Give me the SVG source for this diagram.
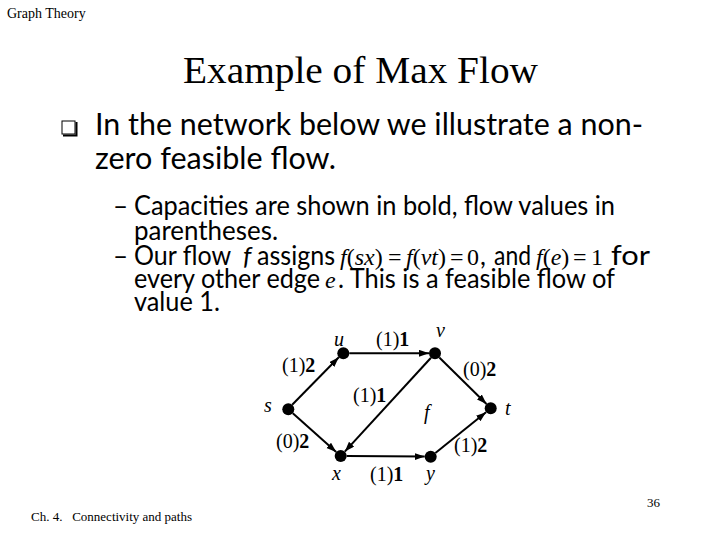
<svg xmlns="http://www.w3.org/2000/svg" width="720" height="540" viewBox="0 0 720 540">
<style>
.ser{font-family:"Liberation Serif","Times New Roman",serif;fill:#000}
.sans{font-family:Lato,"Open Sans","Noto Sans",sans-serif;fill:#000}
.main{font-size:31px}
.sub{font-size:26px}
.tm{font-family:"Liberation Serif","Times New Roman",serif;font-size:24px;fill:#000}
.lbl{font-family:"Liberation Serif","Times New Roman",serif;font-size:20px;fill:#000}
.it{font-style:italic}
.b{font-weight:bold}
.edge{stroke:#000;stroke-width:2;fill:none;marker-end:url(#arr)}
.node{fill:#000}
</style>
<defs>
<marker id="arr" markerUnits="userSpaceOnUse" markerWidth="11" markerHeight="8" refX="10" refY="3.5" orient="auto">
<path d="M0,0 L10,3.5 L0,7 z" fill="#000"/>
</marker>
</defs>
<rect width="720" height="540" fill="#fff"/>
<text class="ser" x="7" y="18" font-size="14">Graph Theory</text>
<text class="ser" x="183" y="83" font-size="38" textLength="355" lengthAdjust="spacingAndGlyphs">Example of Max Flow</text>
<g id="bullet">
<rect x="62" y="121" width="13" height="13" fill="#fff" stroke="#000" stroke-width="1"/>
<path d="M63,135.5 H76.5 V122" stroke="#000" stroke-width="2" fill="none"/>
</g>
<text class="sans main" x="95" y="135" textLength="548" lengthAdjust="spacingAndGlyphs">In the network below we illustrate a non-</text>
<text class="sans main" x="95" y="169" textLength="241" lengthAdjust="spacingAndGlyphs">zero feasible flow.</text>
<text class="sans sub" x="113" y="215">–</text>
<text class="sans sub" x="134" y="215" textLength="481" lengthAdjust="spacingAndGlyphs">Capacities are shown in bold, flow values in</text>
<text class="sans sub" x="134" y="240" textLength="144" lengthAdjust="spacingAndGlyphs">parentheses.</text>
<text class="sans sub" x="113" y="265">–</text>
<text class="sans sub" x="134" y="265" textLength="97" lengthAdjust="spacingAndGlyphs">Our flow</text>
<text class="sans sub it" x="243" y="265">f</text>
<text class="sans sub" x="257" y="265" textLength="78" lengthAdjust="spacingAndGlyphs">assigns</text>
<text class="tm" y="265"><tspan x="340" class="it">f</tspan><tspan>(</tspan><tspan class="it">sx</tspan><tspan>)</tspan><tspan x="388">=</tspan><tspan x="406" class="it">f</tspan><tspan>(</tspan><tspan class="it">vt</tspan><tspan>)</tspan><tspan x="450">=</tspan><tspan x="467">0</tspan></text>
<text class="sans sub" x="480" y="265">,</text>
<text class="sans sub" x="494" y="265" textLength="37" lengthAdjust="spacingAndGlyphs">and</text>
<text class="tm" y="265"><tspan x="536" class="it">f</tspan><tspan>(</tspan><tspan class="it">e</tspan><tspan>)</tspan><tspan x="573">=</tspan><tspan x="591">1</tspan></text>
<text class="sans sub" x="611" y="265" textLength="39" lengthAdjust="spacingAndGlyphs">for</text>
<text class="sans sub" x="134" y="288" textLength="186" lengthAdjust="spacingAndGlyphs">every other edge</text>
<text class="tm it" x="325" y="288">e</text>
<text class="sans sub" x="338" y="288" textLength="277" lengthAdjust="spacingAndGlyphs">. This is a feasible flow of</text>
<text class="sans sub" x="134" y="311" textLength="86" lengthAdjust="spacingAndGlyphs">value 1.</text>
<g id="connectors">
<line class="edge" x1="292.2" y1="404.7" x2="338.8" y2="357.3"/>
<line class="edge" x1="349.3" y1="353.3" x2="429" y2="353.3"/>
<line class="edge" x1="439.3" y1="357.5" x2="486.5" y2="404"/>
<line class="edge" x1="292.8" y1="413.3" x2="336.2" y2="452"/>
<line class="edge" x1="431" y1="357.7" x2="344.8" y2="451.6"/>
<line class="edge" x1="346.7" y1="456.1" x2="424.7" y2="456.6"/>
<line class="edge" x1="435.4" y1="453" x2="486" y2="412.2"/>
</g>
<g id="node-u"><circle class="node" cx="343.3" cy="353.3" r="6"/><text class="lbl it" x="334" y="346">u</text></g>
<g id="node-v"><circle class="node" cx="435" cy="353.3" r="6"/><text class="lbl it" x="436" y="337">v</text></g>
<g id="node-s"><circle class="node" cx="288.3" cy="409.3" r="6"/><text class="lbl it" x="264" y="412">s</text></g>
<g id="node-t"><circle class="node" cx="490.7" cy="408.3" r="6"/><text class="lbl it" x="505" y="415">t</text></g>
<g id="node-x"><circle class="node" cx="340.7" cy="456" r="6"/><text class="lbl it" x="332" y="480">x</text></g>
<g id="node-y"><circle class="node" cx="430.7" cy="456.7" r="6"/><text class="lbl it" x="426" y="480">y</text></g>
<g id="edge-labels">
<text class="lbl" x="376" y="346">(1)<tspan class="b">1</tspan></text>
<text class="lbl" x="282" y="372">(1)<tspan class="b">2</tspan></text>
<text class="lbl" x="463" y="376">(0)<tspan class="b">2</tspan></text>
<text class="lbl" x="353" y="402">(1)<tspan class="b">1</tspan></text>
<text class="lbl it" x="424" y="419">f</text>
<text class="lbl" x="276" y="448">(0)<tspan class="b">2</tspan></text>
<text class="lbl" x="454" y="452">(1)<tspan class="b">2</tspan></text>
<text class="lbl" x="370" y="481">(1)<tspan class="b">1</tspan></text>
</g>
<text class="ser" x="31" y="521" font-size="13" xml:space="preserve">Ch. 4.   Connectivity and paths</text>
<text class="ser" x="647" y="507" font-size="13">36</text>
</svg>
